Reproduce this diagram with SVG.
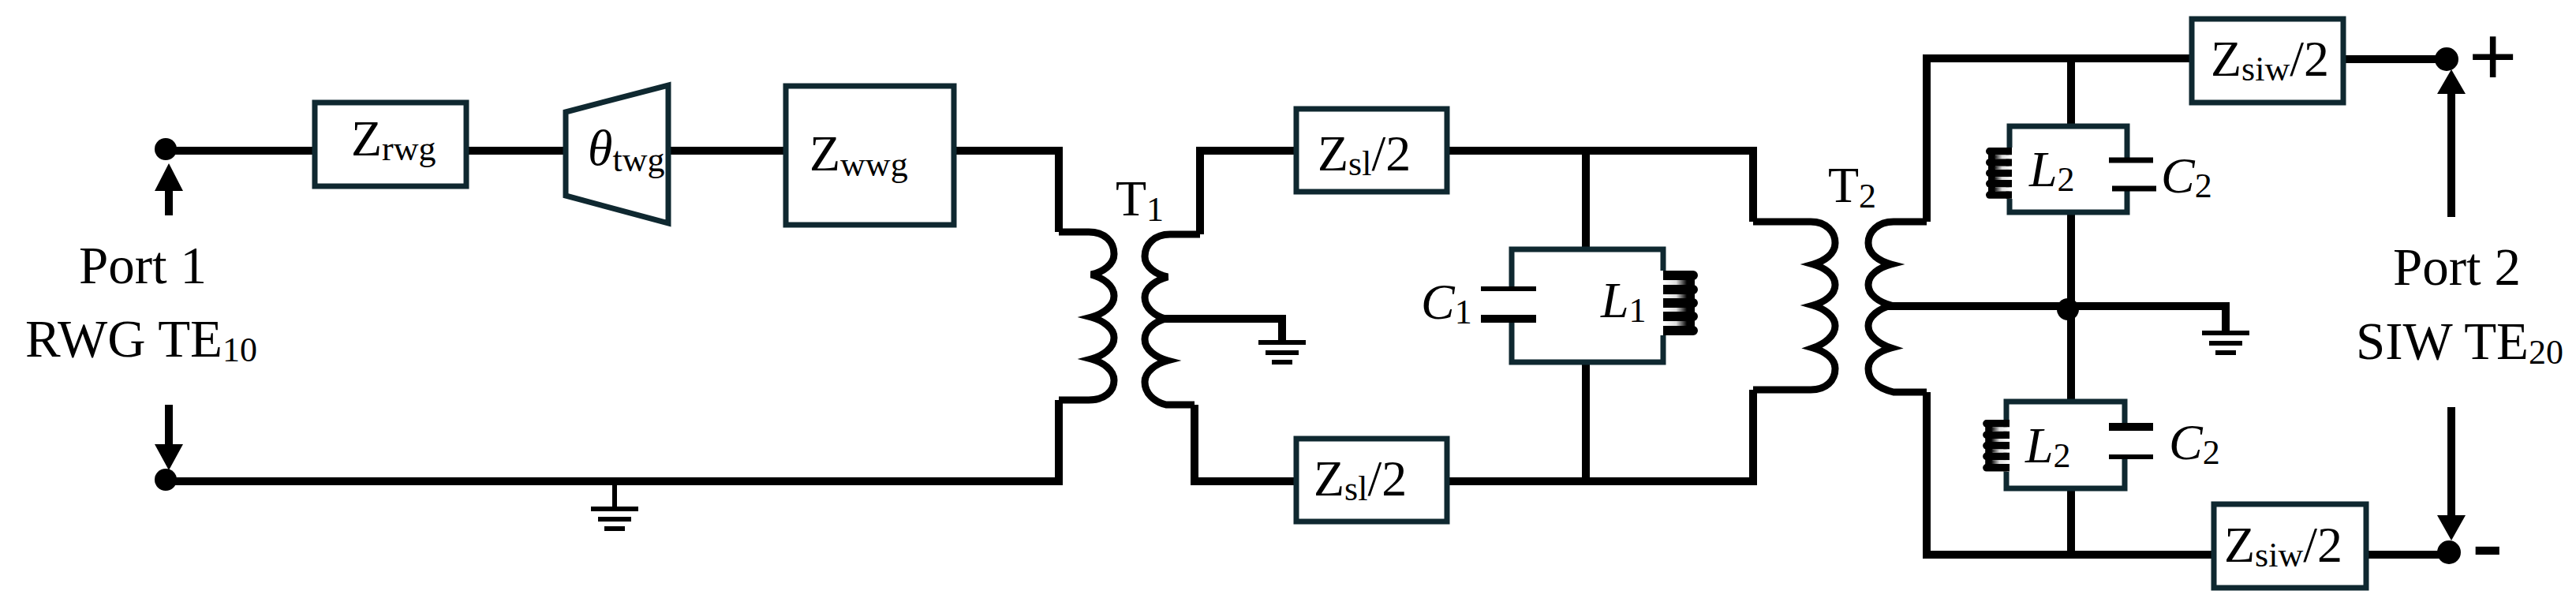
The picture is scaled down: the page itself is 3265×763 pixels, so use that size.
<svg xmlns="http://www.w3.org/2000/svg" width="3265" height="763" viewBox="0 0 3265 763">
<style>
.w{fill:none;stroke:#000;stroke-width:10}
.b{fill:#fff;stroke:#0f2830;stroke-width:7}
.e{fill:none;stroke:#0f2830;stroke-width:7}
.c{fill:none;stroke:#000;stroke-width:9}
.p{fill:none;stroke:#000;stroke-width:7}
.t{font-family:"Liberation Serif","Times New Roman",serif;font-size:64px;fill:#000}
.l{font-size:67px}
.i{font-style:italic}
.s{font-size:44px;font-style:normal}
.g{fill:none;stroke:#000;stroke-width:6}
</style>
<defs>
<linearGradient id="fade"><stop offset="0" stop-color="#fff"/><stop offset=".55" stop-color="#ddd"/><stop offset="1" stop-color="#000"/></linearGradient>
<g id="gnd"><path class="g" d="M0 0V34M-30 34H30M-21 47H21M-13 59H13"/></g>
<g id="ind">
<path fill="none" stroke="#000" stroke-width="12" stroke-linecap="round" d="M6 6H38M6 24H38M6 41H38M6 58H38M6 76H38"/>
<path fill="none" stroke="#000" stroke-width="12" d="M0 6H10M0 24H10M0 41H10M0 58H10M0 76H10M34 6V76"/>
<path fill="url(#fade)" d="M0 12H30V18H0ZM0 30H30V35H0ZM0 47H30V52H0ZM0 64H30V70H0Z"/>
</g>
</defs>
<rect width="3265" height="763" fill="#fff"/>
<g id="connectors">
<path class="w" d="M210 191H399M591 191H717M847 191H996M1209 191H1342V294"/>
<path class="w" d="M210 610H1342V507"/>
<path class="w" d="M1643 191H1521V297"/>
<path class="w" d="M1643 610H1514V513"/>
<path class="w" d="M1472 404H1625V437"/>
<path class="w" d="M1834 191H2222V281"/>
<path class="w" d="M1834 610H2222V494"/>
<path class="w" d="M2010 191V316M2010 459V610"/>
<path class="w" d="M2778 74H2442V281"/>
<path class="w" d="M2806 703H2442V497"/>
<path class="w" d="M2625 74V160M2625 269V509M2625 619V703"/>
<path class="w" d="M2393 388H2821V423"/>
<path class="w" d="M2970 75H3100M3000 703H3104"/>
</g>
<g id="port1-top"><circle cx="210" cy="189" r="14"/><path d="M209 273V242H196L214 207L232 242H219V273Z"/></g>
<g id="port1-bottom"><circle cx="210" cy="608" r="14"/><path d="M209 513V563H196L214 596L232 563H219V513Z"/><use href="#gnd" transform="translate(779 611)"/></g>
<g id="port1-label"><text class="t l" x="100" y="359">Port 1</text>
<text class="t l" x="32" y="452">RWG TE<tspan class="s" dy="6">10</tspan></text></g>
<g id="z-rwg"><rect class="b" x="399" y="130" width="192" height="106"/>
<text class="t" x="445" y="197">Z<tspan class="s" dy="6">rwg</tspan></text></g>
<g id="theta-twg"><path class="b" d="M717 142L847 108V283L717 248Z"/>
<text class="t i" x="745" y="209">θ<tspan class="s" dy="8">twg</tspan></text></g>
<g id="z-wwg"><rect class="b" x="996" y="109" width="213" height="176"/>
<text class="t" x="1026" y="216">Z<tspan class="s" dy="7">wwg</tspan></text></g>
<g id="t1">
<path class="c" d="M1342 294H1380C1400 294 1412 306 1412 322C1412 335 1398 345 1383 348C1398 352 1412 362 1412 375C1412 388 1398 398 1383 402C1398 406 1412 416 1412 428C1412 441 1398 451 1383 455C1398 459 1412 469 1412 482C1412 496 1400 507 1380 507H1342"/>
<path class="c" d="M1521 297H1483C1463 297 1451 310 1451 325C1451 338 1465 348 1480 351C1465 355 1451 365 1451 377C1451 390 1463 400 1477 404C1463 408 1451 418 1451 430C1451 443 1465 453 1480 457C1465 461 1451 471 1451 484C1451 498 1462 509 1478 513H1514"/>
<text class="t" x="1414" y="273">T<tspan class="s" dy="7">1</tspan></text>
<use href="#gnd" transform="translate(1625 400)"/></g>
<g id="z-sl-top"><rect class="b" x="1643" y="138" width="191" height="105"/>
<text class="t" x="1670" y="216">Z<tspan class="s" dy="6">sl</tspan><tspan dy="-6">/2</tspan></text></g>
<g id="z-sl-bottom"><rect class="b" x="1643" y="556" width="191" height="105"/>
<text class="t" x="1665" y="628">Z<tspan class="s" dy="6">sl</tspan><tspan dy="-6">/2</tspan></text></g>
<g id="lc1">
<path class="e" d="M1916 366V316H2108V343M2108 425V459H1916V404"/>
<path class="g" d="M1877 366H1947"/><path class="w" d="M1877 404H1947"/>
<use href="#ind" transform="translate(2108 343)"/>
<text class="t i" x="1801" y="404">C<tspan class="s" dy="6">1</tspan></text>
<text class="t i" x="2029" y="402">L<tspan class="s" dy="6">1</tspan></text></g>
<g id="t2">
<path class="c" d="M2222 281H2295C2315 281 2326 294 2326 308C2326 322 2312 331 2298 335C2312 339 2326 348 2326 361C2326 374 2312 383 2298 387C2312 391 2326 401 2326 413C2326 426 2312 436 2298 441C2312 445 2326 454 2326 467C2326 482 2315 494 2295 494H2222"/>
<path class="c" d="M2442 281H2400C2380 281 2368 294 2368 308C2368 322 2382 331 2397 335C2382 339 2368 348 2368 361C2368 374 2382 383 2397 387C2382 391 2368 401 2368 413C2368 426 2382 436 2397 441C2382 445 2368 454 2368 467C2368 482 2380 492 2400 497H2442"/>
<text class="t" x="2317" y="256">T<tspan class="s" dy="7">2</tspan></text></g>
<g id="lc2-top">
<path class="e" d="M2696 203V160H2547V187M2547 252V269H2696V239"/>
<path class="p" d="M2673 203H2729M2677 239H2733"/>
<use href="#ind" transform="translate(2550 187) scale(-.75 .79)"/>
<text class="t i" x="2572" y="236">L<tspan class="s" dy="6">2</tspan></text>
<text class="t i" x="2739" y="244">C<tspan class="s" dy="6">2</tspan></text></g>
<g id="junction"><circle cx="2621" cy="392" r="14"/><use href="#gnd" transform="translate(2821 388)"/></g>
<g id="lc2-bottom">
<path class="e" d="M2693 536V509H2543V532M2543 598V619H2693V582"/>
<path class="w" d="M2673 541H2729"/><path class="g" d="M2673 579H2729"/>
<use href="#ind" transform="translate(2547 532) scale(-.77 .8)"/>
<text class="t i" x="2567" y="586">L<tspan class="s" dy="6">2</tspan></text>
<text class="t i" x="2749" y="582">C<tspan class="s" dy="6">2</tspan></text></g>
<g id="z-siw-top"><rect class="b" x="2778" y="24" width="192" height="106"/>
<text class="t" x="2802" y="96">Z<tspan class="s" dy="6">siw</tspan><tspan dy="-6">/2</tspan></text></g>
<g id="z-siw-bottom"><rect class="b" x="2806" y="639" width="193" height="106"/>
<text class="t" x="2819" y="712">Z<tspan class="s" dy="6">siw</tspan><tspan dy="-6">/2</tspan></text></g>
<g id="port2-top"><circle cx="3101" cy="75" r="15"/><path d="M3102 275V119H3089L3107 88L3125 119H3112V275Z"/>
<text style="font-family:'Liberation Sans',sans-serif;font-size:105px" x="3129" y="107">+</text></g>
<g id="port2-bottom"><circle cx="3104" cy="700" r="15"/><path d="M3102 516V653H3089L3107 685L3125 653H3112V516Z"/>
<text style="font-family:'Liberation Sans',sans-serif;font-size:85px;font-weight:bold" transform="matrix(1.4 0 0 1 3133 720)">-</text></g>
<g id="port2-label"><text class="t l" x="3033" y="361">Port 2</text>
<text class="t l" x="2986" y="455">SIW TE<tspan class="s" dy="6">20</tspan></text></g>
</svg>
